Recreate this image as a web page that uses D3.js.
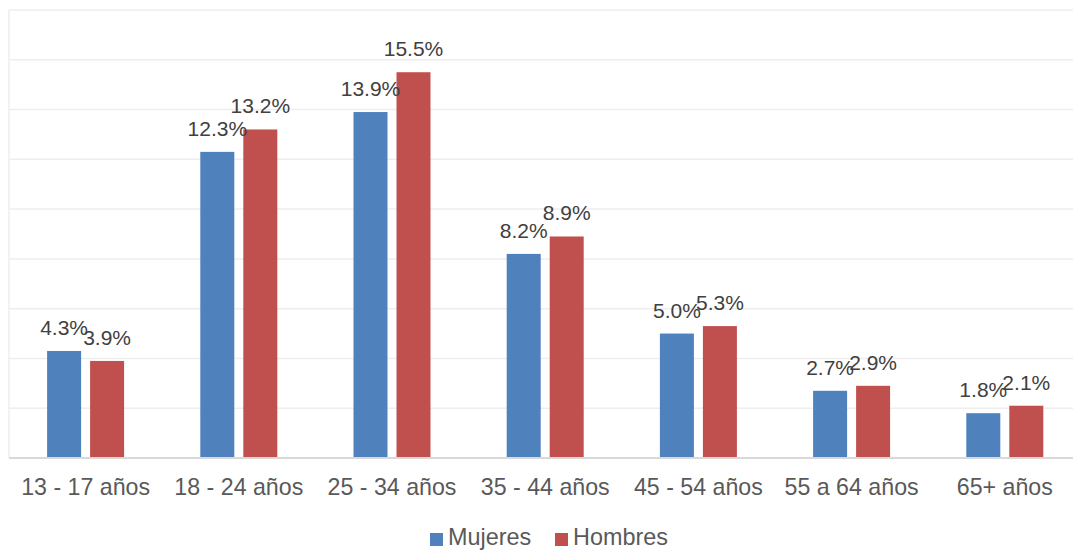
<!DOCTYPE html>
<html>
<head>
<meta charset="utf-8">
<script src="https://cdn.jsdelivr.net/npm/d3@7"></script>
<style>
  html, body { margin: 0; padding: 0; background: #fff; }
  svg { display: block; font-family: "Liberation Sans", Arial, sans-serif; }
</style>
</head>
<body>
<svg id="chart" width="1073" height="552"></svg>
<script>
// Age groups and the share of each sex in every group (%)
const categories = ["13 - 17 años", "18 - 24 años", "25 - 34 años", "35 - 44 años", "45 - 54 años", "55 a 64 años", "65+ años"];
const series = ["Mujeres", "Hombres"];
const mujeres = [4.3, 12.3, 13.9, 8.2, 5.0, 2.7, 1.8];
const hombres = [3.9, 13.2, 15.5, 8.9, 5.3, 2.9, 2.1];
const yTicks = [0, 2, 4, 6, 8, 10, 12, 14, 16, 18];
const colors = ["#4F81BD", "#C0504D"];

const values = [mujeres, hombres];
const svg = d3.select("#chart");

const plot = { left: 9, top: 10, bottom: 458, step: 153.2 };

const x0 = d3.scaleBand()
  .domain(categories)
  .range([plot.left, plot.left + plot.step * categories.length])
  .padding(0);

const x1 = d3.scaleBand()
  .domain(series)
  .range([-38.5, 38.5])
  .paddingInner(9 / 43)
  .paddingOuter(0);

const y = d3.scaleLinear()
  .domain([0, 18])
  .range([plot.bottom, plot.top]);

// horizontal gridlines
svg.append("g")
  .selectAll("line")
  .data(yTicks.filter(d => d > 0))
  .join("line")
  .attr("x1", plot.left)
  .attr("x2", 1073)
  .attr("y1", d => y(d))
  .attr("y2", d => y(d))
  .attr("stroke", "#EEEEEE")
  .attr("stroke-width", 1.5);

// left edge of the plot area
svg.append("line")
  .attr("x1", plot.left).attr("x2", plot.left)
  .attr("y1", y(18)).attr("y2", y(0))
  .attr("stroke", "#EEEEEE")
  .attr("stroke-width", 1.5);

// bars
const groups = svg.append("g")
  .selectAll("g")
  .data(categories)
  .join("g")
  .attr("transform", d => `translate(${x0(d) + x0.bandwidth() / 2},0)`);

groups.selectAll("rect")
  .data((d, i) => series.map((s, j) => ({ s, j, v: values[j][i] })))
  .join("rect")
  .attr("x", d => x1(d.s))
  .attr("width", x1.bandwidth())
  .attr("y", d => y(d.v))
  .attr("height", d => y(0) - y(d.v))
  .attr("fill", d => colors[d.j]);

// value labels
groups.selectAll("text")
  .data((d, i) => series.map((s, j) => ({ s, j, v: values[j][i] })))
  .join("text")
  .attr("x", d => x1(d.s) + x1.bandwidth() / 2)
  .attr("y", d => y(d.v) - 16)
  .attr("text-anchor", "middle")
  .attr("font-size", 21)
  .attr("fill", "#404040")
  .text(d => d.v.toFixed(1) + "%");

// category axis
const xAxis = svg.append("g")
  .attr("transform", `translate(0,${plot.bottom})`)
  .call(d3.axisBottom(x0).tickSize(0).tickPadding(0));
xAxis.select(".domain")
  .attr("d", `M${plot.left},0H1073`)
  .attr("stroke", "#D9D9D9")
  .attr("stroke-width", 2);
xAxis.selectAll("text")
  .attr("y", 37)
  .attr("dy", 0)
  .attr("font-size", 23.2)
  .attr("font-family", "Liberation Sans, Arial, sans-serif")
  .attr("fill", "#595959");

// legend
const legendItems = [
  { label: series[0], color: colors[0], x: 430 },
  { label: series[1], color: colors[1], x: 555 }
];
const legend = svg.append("g");
legend.selectAll("rect")
  .data(legendItems)
  .join("rect")
  .attr("x", d => d.x)
  .attr("y", 533)
  .attr("width", 13)
  .attr("height", 13)
  .attr("fill", d => d.color);
legend.selectAll("text")
  .data(legendItems)
  .join("text")
  .attr("x", d => d.x + 18)
  .attr("y", 545)
  .attr("font-size", 23.4)
  .attr("fill", "#595959")
  .text(d => d.label);
</script>
</body>
</html>
